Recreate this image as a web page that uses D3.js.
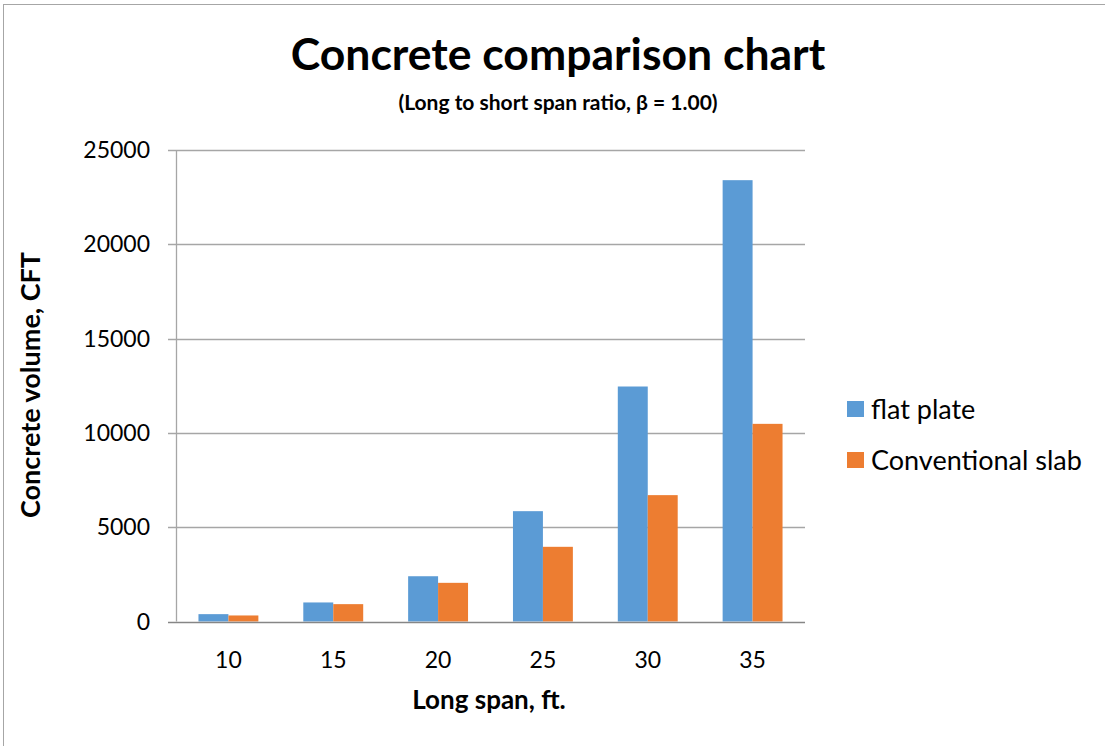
<!DOCTYPE html>
<html>
<head>
<meta charset="utf-8">
<script src="https://cdn.jsdelivr.net/npm/d3@7"></script>
<style>
  html, body { margin: 0; padding: 0; background: #fff; }
  svg { display: block; }
  text { font-family: Lato, "Open Sans", sans-serif; fill: #000; }
</style>
</head>
<body>
<svg id="chart" width="1105" height="746"></svg>
<script>
// Long span (ft.) categories and concrete volumes (CFT)
const spans = ["10", "15", "20", "25", "30", "35"];
const flatPlate = [390, 1010, 2400, 5850, 12460, 23400];
const conventionalSlab = [320, 920, 2050, 3960, 6700, 10480];
const seriesNames = ["flat plate", "Conventional slab"];
const seriesColors = ["#5B9BD5", "#ED7D31"];
const yTicks = [0, 5000, 10000, 15000, 20000, 25000];

const svg = d3.select("#chart");

// outer chart frame (runs off the right and bottom edges)
svg.append("rect")
  .attr("x", 3.5).attr("y", 4.5)
  .attr("width", 1300).attr("height", 1000)
  .attr("fill", "none").attr("stroke", "#a6a6a6").attr("stroke-width", 1);

const plot = { left: 176, right: 805, top: 150, bottom: 621.5 };

const x0 = d3.scaleBand()
  .domain(spans)
  .range([plot.left, plot.right])
  .paddingInner(0).paddingOuter(0);

const barW = x0.bandwidth() / 3.5;   // 150% gap between groups
const x1 = d3.scaleBand()
  .domain([0, 1])
  .range([0, barW * 2]);

const y = d3.scaleLinear().domain([0, 25000]).range([plot.bottom, plot.top]);

// horizontal gridlines, extending left as tick marks
svg.append("g").selectAll("line")
  .data(yTicks.filter(d => d > 0))
  .join("line")
  .attr("x1", plot.left - 8).attr("x2", plot.right)
  .attr("y1", d => Math.round(y(d)) + 0.5).attr("y2", d => Math.round(y(d)) + 0.5)
  .attr("stroke", "#a6a6a6").attr("stroke-width", 1.3);

// bars
const groups = svg.append("g").selectAll("g")
  .data(spans.map((s, i) => ({ span: s, vals: [flatPlate[i], conventionalSlab[i]] })))
  .join("g")
  .attr("transform", d => `translate(${x0(d.span) + (x0.bandwidth() - barW * 2) / 2},0)`);

groups.selectAll("rect")
  .data(d => d.vals.map((v, k) => ({ v, k })))
  .join("rect")
  .attr("x", d => x1(d.k))
  .attr("width", x1.bandwidth())
  .attr("y", d => y(d.v))
  .attr("height", d => y(0) - y(d.v))
  .attr("fill", d => seriesColors[d.k]);

// y axis line
svg.append("line")
  .attr("x1", plot.left + 0.5).attr("x2", plot.left + 0.5)
  .attr("y1", plot.top).attr("y2", plot.bottom)
  .attr("stroke", "#a6a6a6").attr("stroke-width", 1.3);

// x axis baseline
svg.append("line")
  .attr("x1", plot.left - 8).attr("x2", plot.right)
  .attr("y1", Math.round(y(0)) + 0.5).attr("y2", Math.round(y(0)) + 0.5)
  .attr("stroke", "#868686").attr("stroke-width", 1.5);

// y tick labels
svg.append("g").selectAll("text")
  .data(yTicks)
  .join("text")
  .attr("x", 150)
  .attr("y", d => y(d))
  .attr("dy", "0.35em")
  .attr("text-anchor", "end")
  .style("font-size", "23px")
  .text(d => d);

// x tick labels
svg.append("g").selectAll("text")
  .data(spans)
  .join("text")
  .attr("x", d => x0(d) + x0.bandwidth() / 2)
  .attr("y", 668)
  .attr("text-anchor", "middle")
  .style("font-size", "23px")
  .text(d => d);

// titles
svg.append("text")
  .attr("x", 558).attr("y", 70)
  .attr("text-anchor", "middle")
  .style("font-size", "44.5px").style("font-weight", "bold")
  .text("Concrete comparison chart");

svg.append("text")
  .attr("x", 558).attr("y", 110)
  .attr("text-anchor", "middle")
  .style("font-size", "21px").style("font-weight", "bold")
  .text("(Long to short span ratio, β = 1.00)");

svg.append("text")
  .attr("x", 489).attr("y", 709)
  .attr("text-anchor", "middle")
  .style("font-size", "26px").style("font-weight", "bold")
  .text("Long span, ft.");

svg.append("text")
  .attr("transform", "translate(40,385) rotate(-90)")
  .attr("text-anchor", "middle")
  .style("font-size", "27px").style("font-weight", "bold")
  .text("Concrete volume, CFT");

// legend
const legend = svg.append("g").selectAll("g")
  .data(seriesNames)
  .join("g")
  .attr("transform", (d, i) => `translate(847,${401 + i * 51})`);

legend.append("rect")
  .attr("width", 17).attr("height", 16)
  .attr("fill", (d, i) => seriesColors[i]);

legend.append("text")
  .attr("x", 24).attr("y", 8)
  .attr("dy", "0.36em")
  .style("font-size", "27px")
  .text(d => d);
</script>
</body>
</html>
